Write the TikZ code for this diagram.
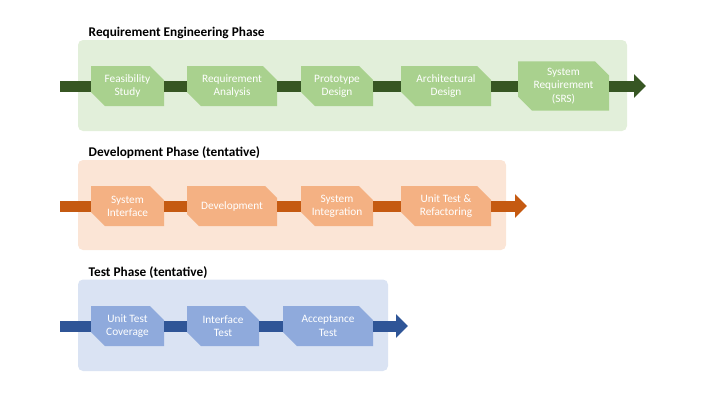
\documentclass[tikz,border=0pt]{standalone}
\usepackage{fontspec}
\setmainfont{Carlito}
\usetikzlibrary{shapes.misc,arrows.meta}
\definecolor{gbg}{HTML}{E2EFDA}
\definecolor{gbox}{HTML}{A9D18E}
\definecolor{gbar}{HTML}{375623}
\definecolor{obg}{HTML}{FBE5D6}
\definecolor{obox}{HTML}{F4B183}
\definecolor{obar}{HTML}{C55A11}
\definecolor{bbg}{HTML}{DAE3F3}
\definecolor{bbox}{HTML}{8FAADC}
\definecolor{bbar}{HTML}{2F5597}
\begin{document}
\begin{tikzpicture}[x=1pt,y=-1pt,
  phasebg/.style={rounded corners=5pt, draw=none},
  stepbox/.style={chamfered rectangle, chamfered rectangle corners={north east,south west},
    chamfered rectangle xsep=7pt, chamfered rectangle ysep=7pt, inner sep=0pt,
    minimum height=40pt, text=white, align=center, font=\fontsize{11.3}{13.2}\selectfont},
  phasetitle/.style={anchor=west, font=\fontsize{13.3}{15}\selectfont\bfseries, inner sep=0pt},
  bar/.style={line width=11pt},
  endbar/.style={line width=11pt, -{Triangle[width=23pt,length=12pt]}},
]
\useasboundingbox (0,0) rectangle (720,405);
% ---- Requirement Engineering Phase ----
\node[phasetitle] (t1) at (88.5,32.5) {Requirement Engineering Phase};
\fill[gbg, phasebg] (78,40) rectangle (627,131);
\coordinate (s1) at (60,86);
\coordinate (e1) at (646,86);
\node[stepbox, fill=gbox, minimum width=73pt] (a1) at (127.5,86) {Feasibility\\Study};
\node[stepbox, fill=gbox, minimum width=90pt] (a2) at (232,86) {Requirement\\Analysis};
\node[stepbox, fill=gbox, minimum width=72pt] (a3) at (337,86) {Prototype\\Design};
\node[stepbox, fill=gbox, minimum width=90pt] (a4) at (446,86) {Architectural\\Design};
\node[stepbox, fill=gbox, minimum width=91pt] (a5) at (563.5,86) {System\\Requirement\\(SRS)};
\draw[bar, gbar] (s1) -- (a1.west);
\draw[bar, gbar] (a1.east) -- (a2.west);
\draw[bar, gbar] (a2.east) -- (a3.west);
\draw[bar, gbar] (a3.east) -- (a4.west);
\draw[bar, gbar] (a4.east) -- (a5.west);
\draw[endbar, gbar] (a5.east) -- (e1);
% ---- Development Phase ----
\node[phasetitle] (t2) at (88.5,152.5) {Development Phase (tentative)};
\fill[obg, phasebg] (78,160) rectangle (506,250);
\coordinate (s2) at (60,206);
\coordinate (e2) at (527,206);
\node[stepbox, fill=obox, minimum width=73pt] (d1) at (127.5,206) {System\\Interface};
\node[stepbox, fill=obox, minimum width=90pt] (d2) at (232,206) {Development};
\node[stepbox, fill=obox, minimum width=72pt] (d3) at (337,206) {System\\Integration};
\node[stepbox, fill=obox, minimum width=90pt] (d4) at (446,206) {Unit Test \&\\Refactoring};
\draw[bar, obar] (s2) -- (d1.west);
\draw[bar, obar] (d1.east) -- (d2.west);
\draw[bar, obar] (d2.east) -- (d3.west);
\draw[bar, obar] (d3.east) -- (d4.west);
\draw[endbar, obar] (d4.east) -- (e2);
% ---- Test Phase ----
\node[phasetitle] (t3) at (88.5,272.5) {Test Phase (tentative)};
\fill[bbg, phasebg] (78,279.5) rectangle (388,371);
\coordinate (s3) at (60,326);
\coordinate (e3) at (408,326);
\node[stepbox, fill=bbox, minimum width=73pt] (u1) at (127.5,326) {Unit Test\\Coverage};
\node[stepbox, fill=bbox, minimum width=72pt] (u2) at (223,326) {Interface\\Test};
\node[stepbox, fill=bbox, minimum width=90pt] (u3) at (328,326) {Acceptance\\Test};
\draw[bar, bbar] (s3) -- (u1.west);
\draw[bar, bbar] (u1.east) -- (u2.west);
\draw[bar, bbar] (u2.east) -- (u3.west);
\draw[endbar, bbar] (u3.east) -- (e3);
\end{tikzpicture}
\end{document}
